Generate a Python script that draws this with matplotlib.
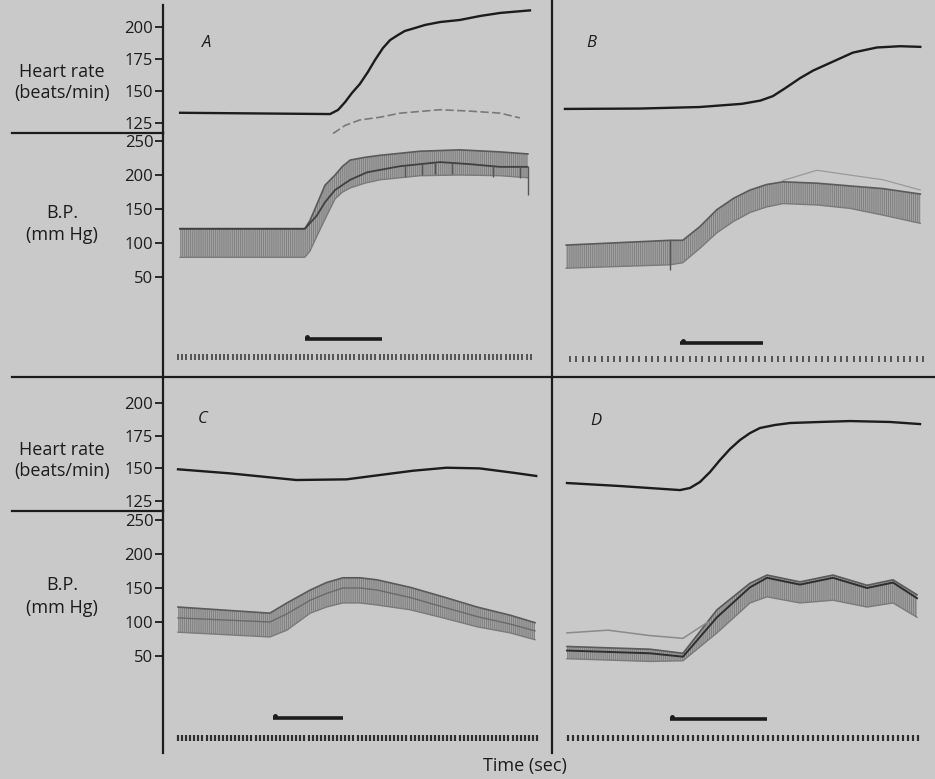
import numpy as np
import matplotlib
matplotlib.use('Agg')
import matplotlib.pyplot as plt
from matplotlib.lines import Line2D

plt.rcParams['font.family'] = ['Open Sans', 'DejaVu Sans']
plt.rcParams['hatch.linewidth'] = 0.6

# ---- data (time in seconds from the first time mark) ----
# Panel A
a_hr_t = [0.5, 36.2, 38.1, 39.8, 41.4, 43.3, 45.2, 46.9, 48.8, 50.5, 52.4, 54.0,
          56.4, 58.8, 62.4, 67.1, 71.9, 76.7, 83.8]
a_hr = [133, 132, 135.2, 141.4, 148.4, 155.5, 164.8, 174.2, 183.6, 189.8, 193.8, 196.9,
        199.2, 201.6, 203.9, 205.5, 208.6, 211, 213]
a_bp_t = [0.5, 30.2, 31.4, 32.6, 35.0, 37.4, 39.2, 41.0, 44.5, 48.1, 52.9, 57.6, 67.1, 76.7, 83.3]
a_sys = [121, 121, 133, 150, 185, 200, 213, 222, 226, 229, 232, 235, 237, 234, 231]
a_dia = [79, 79, 88, 104, 135, 165, 175, 181, 188, 193, 196, 199, 200, 199, 196]
a_mid_t = [0.5, 30.2, 33.0, 35.0, 37.4, 41.0, 45.0, 52.9, 62.4, 69.5, 76.7, 83.1]
a_mid = [121, 121, 140, 160, 178, 193, 204, 213, 219, 216, 212, 212]
a_top_t = [36.9, 39.8, 43.3, 48.1, 52.9, 62.4, 69.5, 76.7, 81.4]
a_top = [261, 273, 281, 285, 291, 296, 294, 291, 284]
a_spikes = [54.0, 58.1, 61.2, 65.2, 75.0, 81.4]
a_stim = (30.2, 48.6, -41)
a_marks = 85

# Panel B
b_hr_t = [-0.8, 11.1, 20.6, 27.3, 30.2, 32.2, 34.1, 36.5, 38.6, 41.3, 44.9, 48.7, 52.4, 55.6]
b_hr = [136, 136.3, 137.5, 140, 142.5, 146, 152, 160, 166, 172, 180, 184, 185, 184.5]
b_bp_t = [-0.6, 15.9, 17.9, 20.6, 23.3, 26.0, 28.6, 31.2, 33.8, 39.2, 44.4, 49.7, 55.6]
b_sys = [97, 104, 104, 124, 149, 166, 178, 186, 190, 188, 184, 180, 172]
b_dia = [63, 68, 71, 92, 115, 132, 145, 153, 158, 156, 151, 141, 129]
b_top_t = [33.8, 39.2, 44.4, 49.7, 55.6]
b_top = [192, 207, 200, 193, 178]
b_stim = (17.5, 30.6, -47)
b_marks = 57

# Panel C
c_hr_t = [0, 12.7, 29.0, 41.3, 49.4, 57.6, 65.8, 73.9, 82.1, 87.8]
c_hr = [149.3, 146.2, 141.1, 141.6, 144.9, 148.2, 150.5, 150.0, 146.7, 144.2]
c_bp_t = [0, 22.5, 26.7, 32.4, 36.4, 40.4, 44.6, 48.8, 56.9, 65.0, 73.3, 81.4, 87.5]
c_sys = [122, 113, 128, 147, 158, 165, 165, 162, 151, 137, 122, 110, 99]
c_dia = [85, 78, 88, 113, 122, 128, 128, 125, 118, 106, 93, 84, 74]
c_mid = [106, 100, 112, 132, 142, 150, 150, 147, 136, 122, 108, 97, 87]
c_stim = (23.3, 40.4, -41)
c_marks = 89

# Panel D
d_hr_t = [-0.2, 10.4, 22.4, 24.4, 26.4, 28.4, 30.4, 32.4, 34.4, 36.4, 38.4, 41.4,
          44.4, 50.4, 56.4, 64.4, 70.4]
d_hr = [138.8, 136.5, 133.4, 135.0, 139.6, 147.2, 156.4, 164.8, 171.7, 177.0, 180.9, 183.2,
        184.7, 185.5, 186.2, 185.5, 183.9]
d_bp_t = [-0.2, 16.4, 23.0, 29.8, 36.4, 39.8, 46.4, 53.0, 59.8, 65.0, 69.8]
d_sys = [64, 60, 54, 118, 157, 169, 159, 169, 154, 162, 140]
d_dia = [46, 42, 43, 84, 128, 137, 128, 132, 122, 128, 107]
d_mid = [58, 54, 49, 107, 151, 165, 155, 165, 150, 158, 135]
d_top_t = [-0.2, 8.0, 16.4, 23.0, 28.0]
d_top = [84, 88, 80, 76, 100]
d_stim = (20.4, 39.8, -43)
d_marks = 71

hr_ticks = [125, 150, 175, 200]
bp_ticks = [50, 100, 150, 200, 250]

# ---- layout (pixels) ----
W, H = 935, 779
BG = '#c9c9c9'
INK = '#1c1c1c'

fig = plt.figure(figsize=(W / 100, H / 100), dpi=100)
fig.patch.set_facecolor(BG)


def px_axes(x0, y0, x1, y1):
    ax = fig.add_axes([x0 / W, 1 - y1 / H, (x1 - x0) / W, (y1 - y0) / H])
    ax.patch.set_alpha(0)
    for s in ax.spines.values():
        s.set_visible(False)
    ax.set_xticks([])
    ax.set_yticks([])
    return ax


def fig_line(x0, y0, x1, y1, lw=1.6):
    fig.add_artist(Line2D([x0 / W, x1 / W], [1 - y0 / H, 1 - y1 / H],
                          color=INK, lw=lw, transform=fig.transFigure))


def style_left(ax, ticks):
    ax.spines['left'].set_visible(True)
    ax.spines['left'].set_linewidth(1.6)
    ax.spines['left'].set_color(INK)
    ax.set_yticks(ticks)
    ax.set_yticklabels([str(t) for t in ticks])
    ax.tick_params(axis='y', direction='out', length=6, width=1.3,
                   colors=INK, labelsize=12, pad=1)


# panel geometry: x range in pixels, first mark pixel, px per second
panels = {
    'A': dict(x=(163, 552), y=(5, 133, 377), first=178, s=4.2, hr=(117.2, 217.2), bp=(-97, 261.8)),
    'B': dict(x=(552, 935), y=(5, 133, 377), first=570, s=6.3, hr=(117.2, 217.2), bp=(-97, 261.8)),
    'C': dict(x=(163, 552), y=(377, 511, 753), first=178, s=4.08, hr=(117.4, 219.9), bp=(-92.6, 263.2)),
    'D': dict(x=(552, 935), y=(377, 511, 753), first=568, s=5.0, hr=(117.4, 219.9), bp=(-92.6, 263.2)),
}

axes = {}
for name, p in panels.items():
    x0, x1 = p['x']
    y0, ym, y1 = p['y']
    xl = ((x0 - p['first']) / p['s'], (x1 - p['first']) / p['s'])
    ax_hr = px_axes(x0, y0, x1, ym)
    ax_bp = px_axes(x0, ym, x1, y1)
    ax_hr.set_xlim(xl)
    ax_bp.set_xlim(xl)
    ax_hr.set_ylim(p['hr'])
    ax_bp.set_ylim(p['bp'])
    if name in ('A', 'C'):
        style_left(ax_hr, hr_ticks)
        style_left(ax_bp, bp_ticks)
    axes[name] = (ax_hr, ax_bp)


def draw_band(ax, t, sys, dia):
    ax.fill_between(t, dia, sys, facecolor='#a2a2a2', edgecolor='#7c7c7c',
                    hatch='||||||||', linewidth=0)
    ax.plot(t, sys, color='#5a5a5a', lw=1.2)
    ax.plot(t, dia, color='#7a7a7a', lw=1.0)


def draw_marks(ax, n, y, stim, color='#4a4a4a', lw=1.3):
    ax.vlines(np.arange(n), y - 4.5, y + 4.5, color=color, lw=lw)
    ax.plot([stim[0], stim[1]], [stim[2], stim[2]], color=INK, lw=2.6,
            solid_capstyle='butt')
    ax.plot([stim[0] + 0.4], [stim[2] + 3], marker='o', ms=2.5, color=INK)


# A
hr, bp = axes['A']
hr.plot(a_hr_t, a_hr, color=INK, lw=1.7)
draw_band(bp, a_bp_t, a_sys, a_dia)
bp.plot(a_mid_t, a_mid, color='#404040', lw=1.3)
mid_at = np.interp(a_spikes, a_mid_t, a_mid)
bp.vlines(a_spikes, mid_at - 16, mid_at, color='#555555', lw=1.0)
bp.vlines([83.3], 170, 214, color='#555555', lw=1.0)
bp.plot(a_top_t, a_top, color='#7a7a7a', lw=1.2, ls=(0, (5, 2)), clip_on=False)
draw_marks(bp, a_marks, -68, a_stim)

# B
hr, bp = axes['B']
hr.plot(b_hr_t, b_hr, color=INK, lw=1.7)
draw_band(bp, b_bp_t, b_sys, b_dia)
bp.plot(b_top_t, b_top, color='#9a9a9a', lw=0.9)
bp.vlines([15.9], 60, 104, color='#555555', lw=1.0)
draw_marks(bp, b_marks, -71, b_stim)

# C
hr, bp = axes['C']
hr.plot(c_hr_t, c_hr, color=INK, lw=1.7)
draw_band(bp, c_bp_t, c_sys, c_dia)
bp.plot(c_bp_t, c_mid, color='#6a6a6a', lw=1.0)
draw_marks(bp, c_marks, -71, c_stim, color='#2e2e2e', lw=1.6)

# D
hr, bp = axes['D']
hr.plot(d_hr_t, d_hr, color=INK, lw=1.7)
draw_band(bp, d_bp_t, d_sys, d_dia)
bp.plot(d_bp_t, d_mid, color='#2e2e2e', lw=1.4)
bp.plot(d_top_t, d_top, color='#8a8a8a', lw=1.1)
draw_marks(bp, d_marks, -71, d_stim, color='#2e2e2e', lw=1.6)

# frame lines
fig_line(552, 0, 552, 753)
fig_line(12, 377, 935, 377)
fig_line(12, 133, 163, 133)
fig_line(12, 511, 163, 511)

# texts (figure pixel positions)
def ftext(x, y, s, **kw):
    fig.text(x / W, 1 - y / H, s, color=INK, ha='center', va='center', **kw)

for yy in (0, 378):
    ftext(62, 72 + yy, 'Heart rate', fontsize=13)
    ftext(62, 93 + yy, '(beats/min)', fontsize=13)
ftext(62, 213, 'B.P.', fontsize=13)
ftext(62, 235, '(mm Hg)', fontsize=13)
ftext(62, 585, 'B.P.', fontsize=13)
ftext(62, 608, '(mm Hg)', fontsize=13)

ftext(207, 43, 'A', fontsize=12, style='italic')
ftext(591, 43, 'B', fontsize=12, style='italic')
ftext(203, 419, 'C', fontsize=12, style='italic')
ftext(596, 421, 'D', fontsize=12, style='italic')
ftext(525, 766, 'Time (sec)', fontsize=13)

fig.savefig('out.png', dpi=100, facecolor=BG)
